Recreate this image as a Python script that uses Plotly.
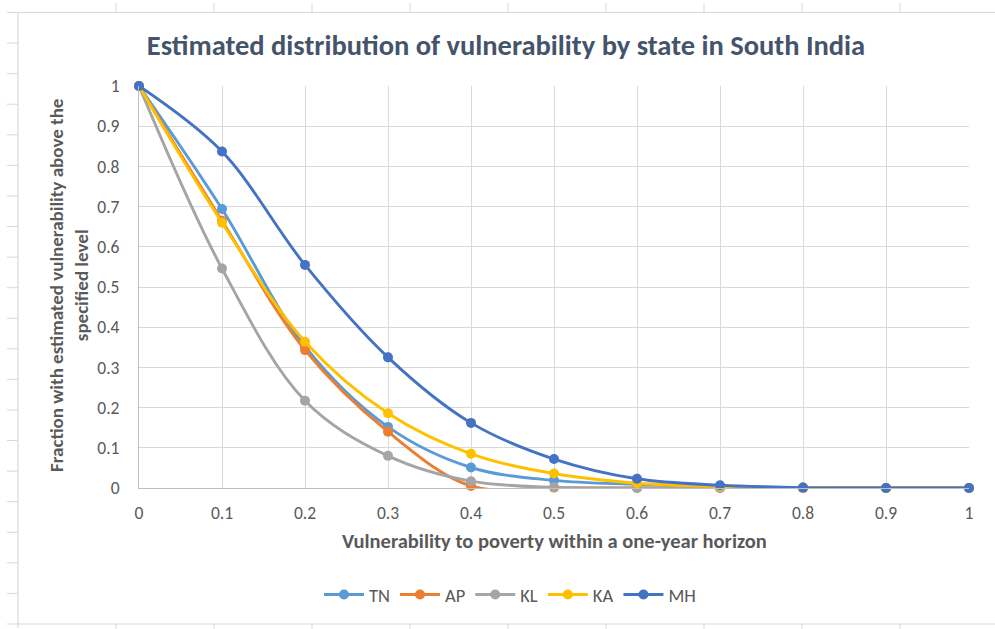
import plotly.graph_objects as go

# Vulnerability thresholds on the horizontal axis
vulnerability = [0, 0.1, 0.2, 0.3, 0.4, 0.5, 0.6, 0.7, 0.8, 0.9, 1.0]

# Fraction of households above each threshold, by state
tn = [1, 0.694, 0.352, 0.152, 0.051, 0.019, 0.009, 0.003, 0.001, 0, 0]
ap = [1, 0.665, 0.343, 0.140, 0.005, 0.001, 0.0, 0.0, 0.0, 0, 0]
kl = [1, 0.546, 0.217, 0.080, 0.017, 0.002, 0.0, 0.0, 0.0, 0, 0]
ka = [1, 0.660, 0.364, 0.186, 0.085, 0.036, 0.012, 0.004, 0.001, 0, 0]
mh = [1, 0.837, 0.555, 0.325, 0.162, 0.072, 0.023, 0.007, 0.001, 0, 0]

series = [
    ("TN", tn, "#5B9BD5"),
    ("AP", ap, "#ED7D31"),
    ("KL", kl, "#A5A5A5"),
    ("KA", ka, "#FFC000"),
    ("MH", mh, "#4472C4"),
]

FONT = "Carlito, Calibri, Lato, sans-serif"
W, H = 995, 629
PL, PR, PT, PB = 139, 969, 86, 488  # plot area in pixels


def px_x(p):
    return (p - PL) / (PR - PL)


def px_y(p):
    return (PB - p) / (PB - PT)


fig = go.Figure()
for name, vals, color in series:
    fig.add_trace(go.Scatter(
        x=vulnerability, y=vals, name=name, mode="lines+markers",
        line=dict(color=color, width=2.9, shape="spline", smoothing=1),
        marker=dict(color=color, size=10),
        cliponaxis=False,
    ))

# Worksheet frame around the chart object, with cell-boundary ticks
shapes = []
frame = "#D9D9D9"
left, top, bottom, right = 18, 12.5, 624, 1000
shapes.append(dict(type="line", xref="paper", yref="paper",
                   x0=px_x(left), x1=px_x(right), y0=px_y(top), y1=px_y(top),
                   line=dict(color=frame, width=1.2)))
shapes.append(dict(type="line", xref="paper", yref="paper",
                   x0=px_x(left), x1=px_x(right), y0=px_y(bottom), y1=px_y(bottom),
                   line=dict(color=frame, width=1.2)))
shapes.append(dict(type="line", xref="paper", yref="paper",
                   x0=px_x(left), x1=px_x(left), y0=px_y(top), y1=px_y(bottom + 4),
                   line=dict(color=frame, width=1.2)))
row_h = (bottom - top) / 20
for k in range(21):
    yy = top + k * row_h
    shapes.append(dict(type="line", xref="paper", yref="paper",
                       x0=px_x(7), x1=px_x(left), y0=px_y(yy), y1=px_y(yy),
                       line=dict(color=frame, width=1)))
for k in range(1, 10):
    xx = left + 98 * k
    shapes.append(dict(type="line", xref="paper", yref="paper",
                       x0=px_x(xx), x1=px_x(xx), y0=px_y(3), y1=px_y(top),
                       line=dict(color=frame, width=1)))
    shapes.append(dict(type="line", xref="paper", yref="paper",
                       x0=px_x(xx), x1=px_x(xx), y0=px_y(bottom), y1=px_y(629),
                       line=dict(color=frame, width=1)))

axis_grey = "#595959"
annotations = [
    dict(text="Vulnerability to poverty within a one-year horizon",
         xref="paper", yref="paper", x=px_x(554), y=px_y(541),
         xanchor="center", yanchor="middle", showarrow=False,
         font=dict(family=FONT, size=20.5, color=axis_grey, weight="bold")),
    dict(text="Fraction with estimated vulnerability above the<br>specified level",
         xref="paper", yref="paper", x=px_x(69), y=px_y(286),
         xanchor="center", yanchor="middle", showarrow=False, textangle=-90,
         font=dict(family=FONT, size=19, color=axis_grey, weight="bold")),
]

fig.update_layout(
    width=W, height=H,
    margin=dict(l=PL, r=W - PR, t=PT, b=H - PB),
    paper_bgcolor="white", plot_bgcolor="white",
    title=dict(text="<b>Estimated distribution of vulnerability by state in South India</b>",
               x=506 / W, xanchor="center",
               y=1 - 45 / H, yanchor="middle",
               font=dict(family=FONT, size=28.5, color="#44546A")),
    font=dict(family=FONT, color=axis_grey, size=17),
    showlegend=True,
    legend=dict(orientation="h", x=px_x(510), y=px_y(595), xanchor="center",
                yanchor="middle", font=dict(family=FONT, size=18.5, color=axis_grey),
                itemwidth=40, tracegroupgap=0),
    shapes=shapes,
    annotations=annotations,
)
fig.update_xaxes(range=[0, 1], dtick=0.1, tick0=0, showgrid=True,
                 gridcolor="#D9D9D9", gridwidth=1, zeroline=False,
                 showline=True, linecolor="#BFBFBF", linewidth=1,
                 ticks="", ticklabelstandoff=9,
                 tickfont=dict(family=FONT, size=17.5, color=axis_grey))
fig.update_yaxes(range=[0, 1], dtick=0.1, tick0=0, showgrid=True,
                 gridcolor="#D9D9D9", gridwidth=1, zeroline=False,
                 showline=True, linecolor="#BFBFBF", linewidth=1,
                 ticks="", ticklabelstandoff=15,
                 tickfont=dict(family=FONT, size=17.5, color=axis_grey))

fig.write_html("out.html")
